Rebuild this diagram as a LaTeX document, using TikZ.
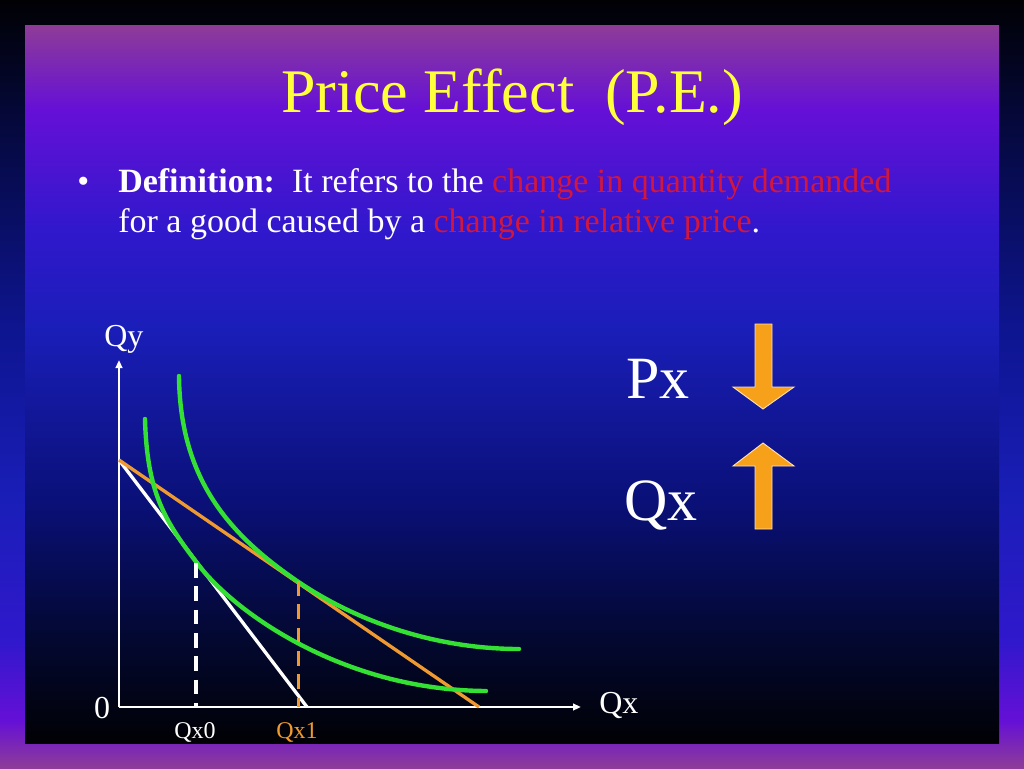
\documentclass[tikz,border=0pt]{standalone}
\usepackage{fontspec}
\setmainfont{Liberation Serif}
\usetikzlibrary{arrows.meta}
\definecolor{cMauve}{HTML}{8E3C98}
\definecolor{cViolet}{HTML}{6510D6}
\definecolor{cBV}{HTML}{3018CC}
\definecolor{cBlue}{HTML}{1A1EB8}
\definecolor{cNavy}{HTML}{0A1078}
\definecolor{cNavyB}{HTML}{0E1590}
\definecolor{cDark}{HTML}{030830}
\definecolor{cDarkB}{HTML}{060A48}
\definecolor{cBlack}{HTML}{010104}
\definecolor{titleyellow}{HTML}{FFFF3C}
\definecolor{defred}{HTML}{D2163C}
\definecolor{icgreen}{HTML}{33E033}
\definecolor{bborange}{HTML}{EE9A30}
\definecolor{arrfill}{HTML}{F7A01A}
\definecolor{arredge}{HTML}{FFE2B0}
\pgfdeclareverticalshading{outerbg}{100bp}{color(0bp)=(cMauve); color(25bp)=(cMauve); color(28.1bp)=(cViolet); color(33.3bp)=(cBV); color(42.4bp)=(cBlue); color(53.5bp)=(cNavyB); color(65.2bp)=(cDarkB); color(75bp)=(cBlack); color(100bp)=(cBlack)}
\pgfdeclareverticalshading{innerbg}{100bp}{color(0bp)=(cBlack); color(25bp)=(cBlack); color(32.2bp)=(cDark); color(41.9bp)=(cNavy); color(53.8bp)=(cBlue); color(60.7bp)=(cBV); color(69.1bp)=(cViolet); color(75bp)=(cMauve); color(100bp)=(cMauve)}
\begin{document}
\begin{tikzpicture}[x=0.75pt,y=-0.75pt,
  txt/.style={inner sep=0pt, text=white},
  axisline/.style={draw=white, line width=1.5pt, -{Triangle[length=6pt,width=5pt]}},
  icurve/.style={draw=icgreen, line width=3.3pt, line cap=round},
  bline/.style={line width=2.5pt},
  dropline/.style={line width=2.4pt, dash pattern=on 11pt off 6.5pt},
  bigarrow/.style={fill=arrfill, draw=arredge, line width=0.7pt, line join=miter}
]
\useasboundingbox (0,0) rectangle (1024,768);
\shade[shading=outerbg] (0,0) rectangle (1024,768);
\shade[shading=innerbg] (25,25) rectangle (999,743);

% title
\node[txt, text=titleyellow, anchor=base, font=\fontsize{46.5}{50}\selectfont] (title) at (512,112) {Price Effect\ \ (P.E.)};

% definition
\node[txt, anchor=base west, font=\fontsize{25.5}{28}\selectfont] (bul) at (77,192) {•};
\node[txt, anchor=base west, font=\fontsize{25.5}{28}\selectfont] (l1) at (118,192) {\textbf{Definition:}\ \ It refers to the \textcolor{defred}{change in quantity demanded}};
\node[txt, anchor=base west, font=\fontsize{25.5}{28}\selectfont] (l2) at (118,232) {for a good caused by a \textcolor{defred}{change in relative price}.};

% axes
\coordinate (O) at (119,707);
\coordinate (Ytip) at (119,360);
\coordinate (Xtip) at (581,707);
\draw[axisline] (O) -- (Ytip);
\draw[axisline] (O) -- (Xtip);
\node[txt, anchor=base west, font=\fontsize{24}{26}\selectfont] (qy) at (104,346) {Qy};
\node[txt, anchor=base, font=\fontsize{24}{26}\selectfont] (zero) at (102,718) {0};
\node[txt, anchor=base west, font=\fontsize{24}{26}\selectfont] (qx) at (599,713) {Qx};

% budget lines
\coordinate (B) at (119,460);
\coordinate (W) at (307,707);
\coordinate (R) at (479,707);
\draw[bline, white] (B) -- (W);
\draw[bline, bborange] (B) -- (R);

% indifference curves
\coordinate (I1s) at (145,419);
\coordinate (I1t) at (197,563);
\coordinate (I1e) at (486,691);
\coordinate (I2s) at (179,376);
\coordinate (I2t) at (297,581);
\coordinate (I2e) at (519,649);
\draw[icurve] (I1s) .. controls (147,493) and (165,521) .. (I1t) .. controls (232,610) and (340,690) .. (I1e);
\draw[icurve] (I2s) .. controls (180,480) and (230,535) .. (I2t) .. controls (360,624) and (440,649) .. (I2e);

% drop lines
\coordinate (T0) at (196,563);
\coordinate (T1) at (298.5,581);
\coordinate (A0) at (196,707);
\coordinate (A1) at (298.5,707);
\draw[dropline, white] (T0) -- (A0);
\draw[dropline, bborange] (T1) -- (A1);
\node[txt, anchor=base, font=\fontsize{18}{20}\selectfont] (qx0) at (195,738) {Qx0};
\node[txt, text=bborange, anchor=base, font=\fontsize{18}{20}\selectfont] (qx1) at (297,738) {Qx1};

% right side
\node[txt, anchor=base west, font=\fontsize{45}{48}\selectfont] (px) at (626,398) {Px};
\node[txt, anchor=base west, font=\fontsize{45}{48}\selectfont] (qxr) at (624,520) {Qx};
\draw[bigarrow] (755,324) -- (772,324) -- (772,387) -- (794,387) -- (763,409) -- (733,387) -- (755,387) -- cycle;
\draw[bigarrow] (755,529) -- (772,529) -- (772,466) -- (794,466) -- (763,443) -- (733,466) -- (755,466) -- cycle;
\end{tikzpicture}
\end{document}
